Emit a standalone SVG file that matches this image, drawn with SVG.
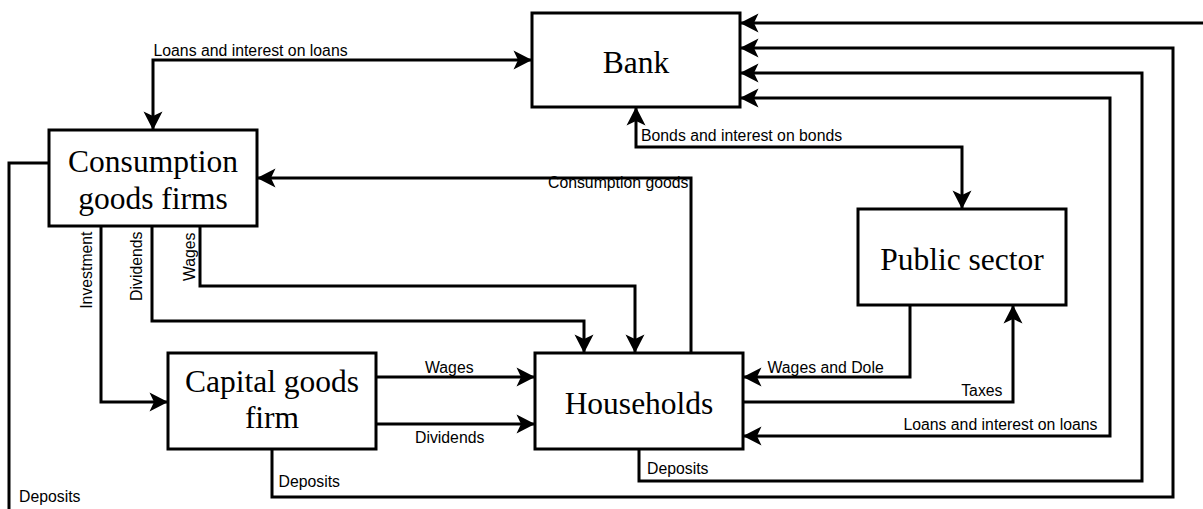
<svg xmlns="http://www.w3.org/2000/svg" width="1203" height="509" viewBox="0 0 1203 509">
<style>
.box{fill:#fff;stroke:#000;stroke-width:3}
.nt{font-family:"Liberation Serif","Times New Roman",serif;font-size:31.5px;fill:#000;text-anchor:middle}
.lb{font-family:"Liberation Sans",Arial,sans-serif;font-size:15.8px;fill:#000}
.c{fill:none;stroke:#000;stroke-width:3;stroke-linejoin:miter}
.a{marker-end:url(#ah)}
.b{marker-end:url(#ah);marker-start:url(#ah)}
</style>
<defs>
<marker id="ah" markerUnits="userSpaceOnUse" viewBox="-19 -10 20 20" markerWidth="20" markerHeight="20" refX="0" refY="0" orient="auto-start-reverse">
<path d="M0,0 L-18.5,-9.5 L-14,0 L-18.5,9.5 Z" fill="#000"/>
</marker>
</defs>
<rect width="1203" height="509" fill="#fff"/>
<g id="connectors">
<path class="c a" d="M49,163 H9 V525 H1215 V23 H740"/>
<path class="c a" d="M272,449 V497 H1173 V48 H740"/>
<path class="c a" d="M639,449 V481 H1142 V73 H740"/>
<path class="c b" d="M743,436 H1110 V98 H740"/>
<path class="c b" d="M532,60 H153 V130"/>
<path class="c b" d="M636,107 V147 H962 V209"/>
<path class="c a" d="M691,353 V178 H257"/>
<path class="c a" d="M101,226 V402 H168"/>
<path class="c a" d="M152,226 V321 H584 V353"/>
<path class="c a" d="M200,226 V286 H635 V353"/>
<path class="c a" d="M376,377 H535"/>
<path class="c a" d="M376,424 H535"/>
<path class="c a" d="M910,305 V377 H743"/>
<path class="c a" d="M743,402 H1013 V305"/>
</g>
<g id="labels">
<text class="lb" x="153.5" y="55.5">Loans and interest on loans</text>
<text class="lb" x="641" y="140.5">Bonds and interest on bonds</text>
<text class="lb" x="688.5" y="188" text-anchor="end">Consumption goods</text>
<text class="lb" x="767.5" y="372.5">Wages and Dole</text>
<text class="lb" x="1002.5" y="395.5" text-anchor="end">Taxes</text>
<text class="lb" x="1097.5" y="430" text-anchor="end">Loans and interest on loans</text>
<text class="lb" x="19" y="501.5">Deposits</text>
<text class="lb" x="278.5" y="486.5">Deposits</text>
<text class="lb" x="647" y="474">Deposits</text>
<text class="lb" x="425" y="373">Wages</text>
<text class="lb" x="415" y="442.5">Dividends</text>
<text class="lb" text-anchor="end" transform="translate(91.5,231.5) rotate(-90)">Investment</text>
<text class="lb" text-anchor="end" transform="translate(141.5,231.5) rotate(-90)">Dividends</text>
<text class="lb" text-anchor="end" transform="translate(194.5,232.5) rotate(-90)">Wages</text>
</g>
<g id="bank">
<rect class="box" x="532" y="13" width="208" height="94"/>
<text class="nt" x="636" y="72.5">Bank</text>
</g>
<g id="consumption-goods-firms">
<rect class="box" x="49" y="130" width="208" height="96"/>
<text class="nt" x="153" y="172">Consumption</text>
<text class="nt" x="153" y="209">goods firms</text>
</g>
<g id="public-sector">
<rect class="box" x="858" y="209" width="208" height="96"/>
<text class="nt" x="962" y="270">Public sector</text>
</g>
<g id="capital-goods-firm">
<rect class="box" x="168" y="353" width="208" height="96"/>
<text class="nt" x="272" y="392">Capital goods</text>
<text class="nt" x="272" y="428">firm</text>
</g>
<g id="households">
<rect class="box" x="535" y="353" width="208" height="96"/>
<text class="nt" x="639" y="413.5">Households</text>
</g>
</svg>
